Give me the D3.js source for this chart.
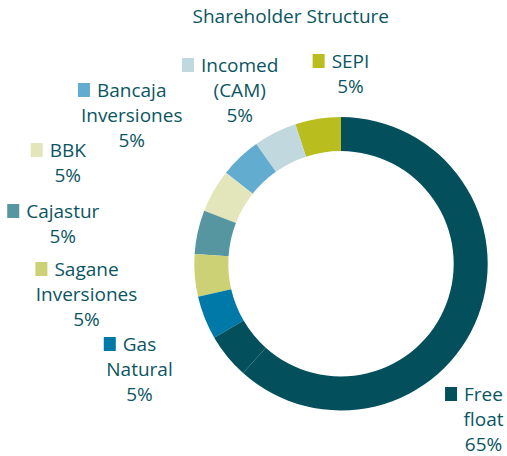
<!DOCTYPE html>
<html><head><meta charset="utf-8">
<script src="https://cdn.jsdelivr.net/npm/d3@7"></script>
<style>html,body{margin:0;padding:0;background:#fff;} svg{display:block;}</style>
</head><body>
<svg id="chart" width="507" height="456"></svg>
<script>
// ---- data ----
const title = "Shareholder Structure";
const categories = ["SEPI", "Incomed (CAM)", "Bancaja Inversiones", "BBK", "Cajastur", "Sagane Inversiones", "Gas Natural", "", "Free float"];
const values = [5.03, 4.78, 4.53, 4.78, 4.81, 4.69, 4.78, 4.97, 61.64];
const shareLabels = ["5%", "5%", "5%", "5%", "5%", "5%", "5%", "", "65%"];

// ---- styles / layout ----
const colors = ["#b9bd1e", "#c1d9de", "#62acd0", "#e3e5bb", "#5596a0", "#ccd175", "#0079a8", "#03505c", "#03505c"];
const textColor = "#0b5562";
const labelAnchors = [[350.5, 68], [239.7, 72], [131.7, 97], [67.8, 157], [62.8, 218], [86.5, 276], [139.5, 351], null, [483.5, 401]];
const cx = 341, cy = 263.8, rOuter = 146.7, rInner = 112.7;
const fontFamily = "'Open Sans', sans-serif";

const svg = d3.select("#chart");

svg.append("text")
  .attr("x", 290.8).attr("y", 23)
  .attr("text-anchor", "middle")
  .attr("font-family", fontFamily).attr("font-size", 19)
  .attr("fill", textColor)
  .text(title);

const pie = d3.pie().sort(null).value(d => d).startAngle(0).endAngle(-2 * Math.PI);
const arc = d3.arc().innerRadius(rInner).outerRadius(rOuter);
const color = d3.scaleOrdinal().domain(d3.range(values.length)).range(colors);

svg.append("g").attr("transform", `translate(${cx},${cy})`)
  .selectAll("path").data(pie(values)).join("path")
  .attr("d", arc)
  .attr("fill", (d, i) => color(i));

const labels = svg.append("g").attr("font-family", fontFamily).attr("font-size", 19).attr("fill", textColor);
categories.forEach((name, i) => {
  const a = labelAnchors[i];
  if (!a || !name) return;
  const lines = name.split(" ").concat([shareLabels[i]]);
  const g = labels.append("g");
  let firstLen = 0;
  lines.forEach((ln, j) => {
    const t = g.append("text")
      .attr("x", a[0]).attr("y", a[1] + j * 25)
      .attr("text-anchor", "middle")
      .text(ln);
    if (j === 0) firstLen = t.node().getComputedTextLength();
  });
  g.append("rect")
    .attr("x", a[0] - firstLen / 2 - 19)
    .attr("y", a[1] - 14)
    .attr("width", 12).attr("height", 14)
    .attr("fill", color(i));
});
</script>
</body></html>
